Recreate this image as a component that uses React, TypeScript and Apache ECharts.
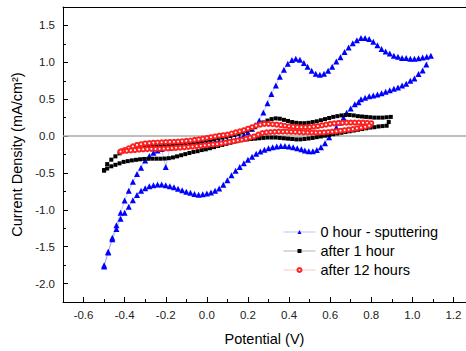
import React, { useEffect, useRef } from "react";
import * as echarts from "echarts";

const seriesNames = ["0 hour - sputtering", "after 1 hour", "after 12 hours"];

const xMajorTicks = [-0.6, -0.4, -0.2, 0.0, 0.2, 0.4, 0.6, 0.8, 1.0, 1.2];
const xMinorTicks = [-0.7, -0.5, -0.3, -0.1, 0.1, 0.3, 0.5, 0.7, 0.9, 1.1];
const yMajorTicks = [-2.0, -1.5, -1.0, -0.5, 0.0, 0.5, 1.0, 1.5];
const yMinorTicks = [-1.75, -1.25, -0.75, -0.25, 0.25, 0.75, 1.25];

const hour0: number[][] = [
  [-0.50, -1.75], [-0.48, -1.57], [-0.46, -1.38], [-0.44, -1.21], [-0.42, -1.04], [-0.40, -0.875],
  [-0.38, -0.74], [-0.36, -0.62], [-0.34, -0.515], [-0.32, -0.43], [-0.30, -0.33], [-0.28, -0.27],
  [-0.26, -0.225], [-0.24, -0.195], [-0.22, -0.175], [-0.20, -0.42], [-0.18, -0.16], [-0.16, -0.15],
  [-0.14, -0.14], [-0.12, -0.13], [-0.10, -0.115], [-0.08, -0.107], [-0.06, -0.1], [-0.04, -0.095],
  [-0.02, -0.09], [0.00, -0.085], [0.02, -0.08], [0.04, -0.075], [0.06, -0.07], [0.08, -0.068],
  [0.10, -0.065], [0.12, -0.06], [0.14, -0.045], [0.16, -0.025], [0.18, 0.01], [0.20, 0.05],
  [0.22, 0.10], [0.235, 0.15], [0.255, 0.21], [0.275, 0.32], [0.295, 0.445], [0.314, 0.57],
  [0.336, 0.685], [0.355, 0.805], [0.375, 0.90], [0.394, 0.98], [0.414, 1.03], [0.433, 1.05],
  [0.453, 1.035], [0.472, 0.99], [0.49, 0.94], [0.51, 0.885], [0.53, 0.845], [0.55, 0.83],
  [0.57, 0.845], [0.59, 0.885], [0.61, 0.94], [0.63, 1.01], [0.65, 1.07], [0.67, 1.14],
  [0.69, 1.20], [0.71, 1.26], [0.73, 1.30], [0.75, 1.33], [0.77, 1.33], [0.79, 1.315],
  [0.81, 1.28], [0.83, 1.23], [0.85, 1.18], [0.87, 1.145], [0.89, 1.12], [0.91, 1.09],
  [0.93, 1.075], [0.95, 1.06], [0.97, 1.057], [0.99, 1.05], [1.01, 1.05], [1.03, 1.055],
  [1.05, 1.065], [1.07, 1.075], [1.09, 1.09],
  [1.068, 0.97], [1.05, 0.89], [1.03, 0.84], [1.01, 0.78], [0.99, 0.75], [0.97, 0.71],
  [0.95, 0.685], [0.93, 0.66], [0.91, 0.64], [0.89, 0.62], [0.87, 0.60], [0.85, 0.58],
  [0.83, 0.565], [0.81, 0.55], [0.79, 0.54], [0.77, 0.52], [0.75, 0.50], [0.738, 0.46],
  [0.72, 0.43], [0.70, 0.375], [0.68, 0.315], [0.665, 0.25], [0.645, 0.18], [0.63, 0.116],
  [0.61, 0.05], [0.595, -0.017], [0.575, -0.097], [0.555, -0.15], [0.535, -0.19], [0.516, -0.205],
  [0.496, -0.205], [0.477, -0.195], [0.46, -0.18], [0.44, -0.165], [0.42, -0.15], [0.40, -0.14],
  [0.38, -0.135], [0.36, -0.135], [0.34, -0.14], [0.32, -0.15], [0.30, -0.165], [0.28, -0.185],
  [0.26, -0.21], [0.24, -0.24], [0.22, -0.28], [0.20, -0.32], [0.18, -0.37], [0.16, -0.42],
  [0.14, -0.47], [0.12, -0.53], [0.10, -0.6], [0.08, -0.66], [0.06, -0.71], [0.04, -0.74],
  [0.02, -0.765], [0.00, -0.78], [-0.02, -0.79], [-0.04, -0.795], [-0.06, -0.785], [-0.08, -0.77],
  [-0.10, -0.755], [-0.12, -0.735], [-0.14, -0.715], [-0.16, -0.695], [-0.18, -0.68], [-0.20, -0.667],
  [-0.22, -0.658], [-0.24, -0.658], [-0.26, -0.667], [-0.28, -0.68], [-0.30, -0.706], [-0.32, -0.74],
  [-0.34, -0.80], [-0.36, -0.87], [-0.38, -0.96], [-0.40, -1.04], [-0.42, -1.12], [-0.44, -1.26],
  [-0.46, -1.40], [-0.48, -1.58], [-0.50, -1.77],
];

const hour1: number[][] = [
  [-0.50, -0.46], [-0.485, -0.38], [-0.465, -0.32], [-0.445, -0.275], [-0.425, -0.235], [-0.405, -0.2],
  [-0.385, -0.18], [-0.365, -0.165], [-0.345, -0.155], [-0.325, -0.148], [-0.305, -0.142], [-0.285, -0.137],
  [-0.265, -0.133], [-0.245, -0.128], [-0.225, -0.124], [-0.205, -0.12], [-0.185, -0.115], [-0.165, -0.11],
  [-0.145, -0.105], [-0.125, -0.1], [-0.105, -0.095], [-0.085, -0.09], [-0.065, -0.083], [-0.045, -0.075],
  [-0.025, -0.067], [-0.005, -0.058], [0.015, -0.05], [0.035, -0.04], [0.055, -0.03], [0.075, -0.02],
  [0.095, -0.01], [0.115, 0.0], [0.135, 0.015], [0.155, 0.03], [0.175, 0.05], [0.195, 0.07],
  [0.215, 0.09], [0.235, 0.12], [0.255, 0.15], [0.275, 0.185], [0.295, 0.21], [0.315, 0.23],
  [0.335, 0.24], [0.355, 0.235], [0.375, 0.22], [0.395, 0.205], [0.415, 0.19], [0.435, 0.18],
  [0.455, 0.175], [0.475, 0.175], [0.495, 0.18], [0.515, 0.19], [0.535, 0.2], [0.555, 0.215],
  [0.575, 0.23], [0.595, 0.245], [0.615, 0.26], [0.635, 0.27], [0.655, 0.28], [0.675, 0.285],
  [0.695, 0.285], [0.715, 0.28], [0.735, 0.27], [0.755, 0.265], [0.775, 0.26], [0.795, 0.255],
  [0.815, 0.25], [0.835, 0.25], [0.855, 0.25], [0.875, 0.255], [0.895, 0.26],
  [0.885, 0.19], [0.875, 0.14], [0.855, 0.135], [0.835, 0.13], [0.815, 0.12], [0.795, 0.115],
  [0.775, 0.105], [0.755, 0.095], [0.735, 0.085], [0.715, 0.075], [0.695, 0.065], [0.675, 0.055],
  [0.655, 0.045], [0.635, 0.035], [0.615, 0.025], [0.595, 0.015], [0.575, 0.005], [0.555, -0.005],
  [0.535, -0.015], [0.515, -0.025], [0.495, -0.033], [0.475, -0.04], [0.455, -0.045], [0.435, -0.045],
  [0.415, -0.04], [0.395, -0.035], [0.375, -0.03], [0.355, -0.025], [0.335, -0.02], [0.315, -0.02],
  [0.295, -0.02], [0.275, -0.025], [0.255, -0.03], [0.235, -0.035], [0.215, -0.04], [0.195, -0.045],
  [0.175, -0.05], [0.155, -0.06], [0.135, -0.075], [0.115, -0.09], [0.095, -0.105], [0.075, -0.12],
  [0.055, -0.135], [0.035, -0.15], [0.015, -0.165], [-0.005, -0.18], [-0.025, -0.19], [-0.045, -0.205],
  [-0.065, -0.215], [-0.085, -0.23], [-0.105, -0.245], [-0.125, -0.26], [-0.145, -0.275], [-0.165, -0.29],
  [-0.185, -0.3], [-0.205, -0.305], [-0.225, -0.307], [-0.245, -0.307], [-0.265, -0.307], [-0.285, -0.308],
  [-0.305, -0.31], [-0.325, -0.315], [-0.345, -0.322], [-0.365, -0.33], [-0.385, -0.34], [-0.405, -0.35],
  [-0.425, -0.37], [-0.445, -0.39], [-0.465, -0.41], [-0.485, -0.44], [-0.50, -0.47],
];

const hour12: number[][] = [
  [-0.42, -0.21], [-0.40, -0.19], [-0.38, -0.165], [-0.36, -0.14], [-0.34, -0.12], [-0.32, -0.11],
  [-0.30, -0.1], [-0.28, -0.095], [-0.26, -0.09], [-0.24, -0.087], [-0.22, -0.084], [-0.20, -0.082],
  [-0.18, -0.08], [-0.16, -0.077], [-0.14, -0.074], [-0.12, -0.07], [-0.10, -0.065], [-0.08, -0.06],
  [-0.06, -0.052], [-0.04, -0.045], [-0.02, -0.035], [0.00, -0.025], [0.02, -0.015], [0.04, -0.005],
  [0.06, 0.005], [0.08, 0.012], [0.10, 0.02], [0.12, 0.035], [0.14, 0.05], [0.16, 0.065],
  [0.18, 0.08], [0.20, 0.1], [0.22, 0.12], [0.24, 0.14], [0.26, 0.155], [0.28, 0.165],
  [0.30, 0.165], [0.32, 0.16], [0.34, 0.155], [0.36, 0.148], [0.38, 0.14], [0.40, 0.133],
  [0.42, 0.127], [0.44, 0.122], [0.46, 0.12], [0.48, 0.12], [0.50, 0.122], [0.52, 0.128],
  [0.54, 0.135], [0.56, 0.145], [0.58, 0.155], [0.60, 0.165], [0.62, 0.172], [0.64, 0.178],
  [0.66, 0.18], [0.68, 0.182], [0.70, 0.183], [0.72, 0.183], [0.74, 0.183], [0.76, 0.182],
  [0.78, 0.18], [0.80, 0.175],
  [0.79, 0.14], [0.77, 0.125], [0.75, 0.115], [0.73, 0.105], [0.71, 0.095], [0.69, 0.087],
  [0.67, 0.08], [0.65, 0.073], [0.63, 0.065], [0.61, 0.06], [0.59, 0.055], [0.57, 0.05],
  [0.55, 0.048], [0.53, 0.047], [0.51, 0.047], [0.49, 0.048], [0.47, 0.05], [0.45, 0.053],
  [0.43, 0.056], [0.41, 0.058], [0.39, 0.06], [0.37, 0.06], [0.35, 0.06], [0.33, 0.058],
  [0.31, 0.055], [0.29, 0.05], [0.27, 0.04], [0.25, 0.02], [0.23, -0.005], [0.21, -0.02],
  [0.19, -0.035], [0.17, -0.05], [0.15, -0.06], [0.13, -0.07], [0.11, -0.08], [0.09, -0.09],
  [0.07, -0.1], [0.05, -0.108], [0.03, -0.113], [0.01, -0.118], [-0.01, -0.125], [-0.03, -0.132],
  [-0.05, -0.138], [-0.07, -0.143], [-0.09, -0.148], [-0.11, -0.153], [-0.13, -0.157], [-0.15, -0.16],
  [-0.17, -0.164], [-0.19, -0.168], [-0.21, -0.171], [-0.23, -0.173], [-0.25, -0.174], [-0.27, -0.175],
  [-0.29, -0.177], [-0.31, -0.18], [-0.33, -0.185], [-0.35, -0.19], [-0.37, -0.195], [-0.39, -0.2],
  [-0.41, -0.205], [-0.42, -0.21],
];

const FONT = "'Liberation Sans', Arial, sans-serif";

export default function App() {
  const ref = useRef<HTMLDivElement>(null);
  useEffect(() => {
    if (!ref.current) return;
    const chart = echarts.init(ref.current, undefined, { renderer: "svg" });
    const xMin = -0.7;
    const xMax = 1.261;
    const yMin = -2.25;
    const yMax = 1.75;
    const fmt = (v: number) => v.toFixed(1);
    chart.setOption({
      animation: false,
      backgroundColor: "#ffffff",
      textStyle: { fontFamily: FONT },
      grid: { left: 63, right: 0, top: 7, bottom: 44, containLabel: false },
      legend: {
        orient: "vertical",
        left: 278,
        top: 219.5,
        itemWidth: 32,
        itemHeight: 5,
        itemGap: 4,
        lineStyle: { width: 1 },
        textStyle: { fontSize: 14.5, color: "#000", fontFamily: FONT },
        data: seriesNames,
      },
      xAxis: [
        {
          type: "value",
          position: "bottom",
          min: xMin,
          max: xMax,
          axisLine: { show: true, onZero: false, lineStyle: { color: "#000", width: 1 } },
          axisTick: { show: true, inside: true, length: 5, customValues: xMajorTicks, lineStyle: { color: "#000" } },
          axisLabel: { show: true, customValues: xMajorTicks, formatter: fmt, fontSize: 11.5, color: "#222", margin: 7, fontFamily: FONT },
          splitLine: { show: false },
          name: "Potential (V)",
          nameLocation: "middle",
          nameGap: 29,
          nameTextStyle: { fontSize: 14.5, color: "#000", fontFamily: FONT },
        },
        {
          type: "value",
          position: "bottom",
          min: xMin,
          max: xMax,
          axisLine: { show: false, onZero: false },
          axisTick: { show: true, inside: true, length: 3, customValues: xMinorTicks, lineStyle: { color: "#000" } },
          axisLabel: { show: false },
          splitLine: { show: false },
        },
        {
          type: "value",
          position: "top",
          min: xMin,
          max: xMax,
          axisLine: { show: true, onZero: false, lineStyle: { color: "#000", width: 1 } },
          axisTick: { show: false },
          axisLabel: { show: false },
          splitLine: { show: false },
        },
      ],
      yAxis: [
        {
          type: "value",
          position: "left",
          min: yMin,
          max: yMax,
          axisLine: { show: true, onZero: false, lineStyle: { color: "#000", width: 1 } },
          axisTick: { show: true, inside: true, length: 5, customValues: yMajorTicks, lineStyle: { color: "#000" } },
          axisLabel: { show: true, customValues: yMajorTicks, formatter: fmt, fontSize: 11.5, color: "#222", margin: 8, fontFamily: FONT },
          splitLine: { show: false },
          name: "Current Density (mA/cm²)",
          nameLocation: "middle",
          nameGap: 30,
          nameTextStyle: { fontSize: 14.5, color: "#000", fontFamily: FONT },
        },
        {
          type: "value",
          position: "left",
          min: yMin,
          max: yMax,
          axisLine: { show: false, onZero: false },
          axisTick: { show: true, inside: true, length: 3, customValues: yMinorTicks, lineStyle: { color: "#000" } },
          axisLabel: { show: false },
          splitLine: { show: false },
        },
      ],
      series: [
        {
          name: seriesNames[0],
          type: "line",
          data: hour0,
          symbol: "triangle",
          symbolSize: 6,
          showSymbol: true,
          itemStyle: { color: "#0000ff" },
          lineStyle: { color: "rgba(80,80,255,0.35)", width: 1 },
          z: 3,
          markLine: {
            silent: true,
            symbol: "none",
            label: { show: false },
            lineStyle: { color: "#a8a8a8", type: "solid", width: 1.5 },
            data: [{ yAxis: 0 }],
            z: 1,
          },
        },
        {
          name: seriesNames[1],
          type: "line",
          data: hour1,
          symbol: "rect",
          symbolSize: 4,
          showSymbol: true,
          itemStyle: { color: "#000000" },
          lineStyle: { color: "rgba(0,0,0,0.3)", width: 1 },
          z: 4,
        },
        {
          name: seriesNames[2],
          type: "line",
          data: hour12,
          symbol: "emptyCircle",
          symbolSize: 4,
          showSymbol: true,
          itemStyle: { color: "#ff2020", borderWidth: 0.8 },
          lineStyle: { color: "rgba(255,100,100,0.35)", width: 1 },
          z: 5,
        },
      ],
    });
    return () => chart.dispose();
  }, []);
  return (
    <div
      ref={ref}
      style={{ position: "fixed", left: 0, top: 0, width: 466, height: 351, background: "#fff" }}
    />
  );
}
